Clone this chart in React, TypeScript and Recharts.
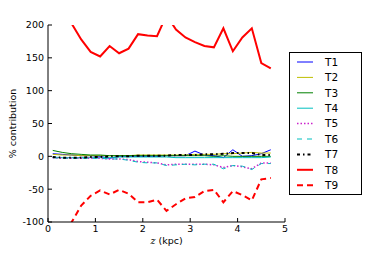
import React from 'react';
import { LineChart, Line, XAxis, YAxis, Legend, Label } from 'recharts';

const zValues = [0.1, 0.3, 0.5, 0.7, 0.9, 1.1, 1.3, 1.5, 1.7, 1.9, 2.1, 2.3, 2.5, 2.7, 2.9, 3.1, 3.3, 3.5, 3.7, 3.9, 4.1, 4.3, 4.5, 4.7];
const t1 = [4, 3, 2, 1, 1, 0, -3, 0, 0, 0, 0, 0, 1, 1, 1, 8, 2, 1, -2, 10, 0, 1, 4, 10];
const t2 = [3, 2, 2, 1, 1, 1, 1, 1, 1, 2, 2, 2, 2, 2, 2, 3, 3, 3, 4, 4, 5, 6, 5, 5];
const t3 = [9, 6, 4, 3, 2, 2, 1, 1, 1, 1, 1, 1, 1, 1, 1, 1, 1, 0, 1, 0, 0, 0, 0, 0];
const t4 = [-1, -2, -2, -2, -2, -2, -2, -1, -1, -1, -1, -1, -1, -2, -2, -2, -2, -2, -2, -2, -2, -2, -2, -1];
const t5 = [-2, -3, -3, -3, -3, -3, -4, -4, -5, -8, -9, -10, -13, -12, -12, -12, -12, -13, -17, -14, -16, -19, -10, -10];
const t6 = [-2, -3, -3, -3, -3, -3, -4, -4, -6, -9, -10, -10, -14, -13, -12, -13, -12, -12, -19, -14, -15, -20, -11, -11];
const t7 = [-1, -2, -2, -2, -1, -1, 0, 0, 0, 1, 1, 1, 1, 2, 2, 2, 3, 3, 4, 5, 5, 5, 2, 2];
const t8 = [260, 230, 202, 178, 159, 152, 168, 157, 164, 186, 184, 183, 215, 193, 181, 174, 168, 166, 195, 160, 181, 195, 142, 134];
const t9 = [-140, -120, -100, -75, -60, -52, -58, -51, -57, -70, -70, -66, -83, -73, -64, -62, -53, -51, -70, -53, -59, -67, -35, -33];

const xTicks = [0, 1, 2, 3, 4, 5];
const yTicks = [-100, -50, 0, 50, 100, 150, 200];
const seriesNames = ['T1', 'T2', 'T3', 'T4', 'T5', 'T6', 'T7', 'T8', 'T9'];
const seriesValues = [t1, t2, t3, t4, t5, t6, t7, t8, t9];

const styles = [
  { color: '#0000ff', width: 1, dash: undefined },
  { color: '#bfbf00', width: 1, dash: undefined },
  { color: '#008000', width: 1, dash: undefined },
  { color: '#00bfbf', width: 1, dash: undefined },
  { color: '#cc22cc', width: 1.5, dash: '1.5 2' },
  { color: '#00bfbf', width: 1, dash: '5 5' },
  { color: '#000000', width: 2, dash: '3 3 1.5 3' },
  { color: '#ff0000', width: 2, dash: undefined },
  { color: '#ff0000', width: 2, dash: '6 4' },
];

const data = zValues.map((z, i) => {
  const row: Record<string, number> = { z };
  seriesNames.forEach((n, k) => {
    row[n] = seriesValues[k][i];
  });
  return row;
});

const FONT = 'DejaVu Sans, sans-serif';

const renderLegend = () => (
  <svg width={73} height={143} style={{ display: 'block' }}>
    <rect x={0.5} y={0.5} width={72} height={142} fill="#fff" stroke="#000" strokeWidth={1} />
    {seriesNames.map((n, k) => {
      const y = 10 + k * 15.4;
      const s = styles[k];
      return (
        <g key={n}>
          <line x1={8} x2={24} y1={y} y2={y} stroke={s.color} strokeWidth={s.width} strokeDasharray={s.dash} />
          <text x={36} y={y + 3.8} fontSize={10.5} fontFamily={FONT} fill="#000">{n}</text>
        </g>
      );
    })}
  </svg>
);

export default function App() {
  return (
    <div style={{ position: 'fixed', left: 0, top: 0, width: 382, height: 254, background: '#fff' }}>
      <LineChart width={382} height={254} data={data} margin={{ top: 25, right: 97, bottom: 12, left: 8 }}>
        <XAxis
          dataKey="z"
          type="number"
          domain={[0, 5]}
          ticks={xTicks}
          allowDataOverflow
          height={20}
          tickSize={-4}
          tickMargin={7}
          stroke="#000"
          tick={{ fontSize: 9.5, fontFamily: FONT, fill: '#000' }}
        >
          <Label
            content={({ viewBox }: any) => (
              <text x={viewBox.x + viewBox.width / 2} y={244} textAnchor="middle" fontSize={9.5} fontFamily={FONT} fill="#000">
                <tspan fontStyle="italic" fontFamily="DejaVu Serif, serif">z</tspan>
                <tspan> (kpc)</tspan>
              </text>
            )}
          />
        </XAxis>
        <XAxis
          xAxisId="top"
          orientation="top"
          dataKey="z"
          type="number"
          domain={[0, 5]}
          ticks={xTicks}
          height={0}
          tickSize={-4}
          stroke="#000"
          tickFormatter={() => ''}
        >
          <Label
            content={({ viewBox }: any) => (
              <text x={viewBox.x + viewBox.width / 2} y={20} textAnchor="middle" fontSize={11} fontFamily={FONT} fill="#000">
                RaDES 'Selene'
              </text>
            )}
          />
        </XAxis>
        <YAxis
          type="number"
          domain={[-100, 200]}
          ticks={yTicks}
          allowDataOverflow
          width={40}
          tickSize={-4}
          tickMargin={8}
          stroke="#000"
          tick={{ fontSize: 9.5, fontFamily: FONT, fill: '#000' }}
        >
          <Label
            content={({ viewBox }: any) => {
              const cy = viewBox.y + viewBox.height / 2;
              return (
                <text x={16} y={cy} transform={`rotate(-90 16 ${cy})`} textAnchor="middle" fontSize={9.5} fontFamily={FONT} fill="#000">
                  % contribution
                </text>
              );
            }}
          />
        </YAxis>
        <YAxis
          yAxisId="right"
          orientation="right"
          type="number"
          domain={[-100, 200]}
          ticks={yTicks}
          width={0}
          tickSize={-4}
          stroke="#000"
          tickFormatter={() => ''}
        />
        <Legend
          layout="vertical"
          align="center"
          verticalAlign="middle"
          content={renderLegend}
          wrapperStyle={{ left: 289, top: 52, width: 73, height: 143 }}
        />
        {seriesNames.map((n, k) => (
          <Line
            key={n}
            dataKey={n}
            name={n}
            stroke={styles[k].color}
            strokeWidth={styles[k].width}
            strokeDasharray={styles[k].dash}
            dot={false}
            activeDot={false}
            isAnimationActive={false}
            type="linear"
          />
        ))}
      </LineChart>
    </div>
  );
}
